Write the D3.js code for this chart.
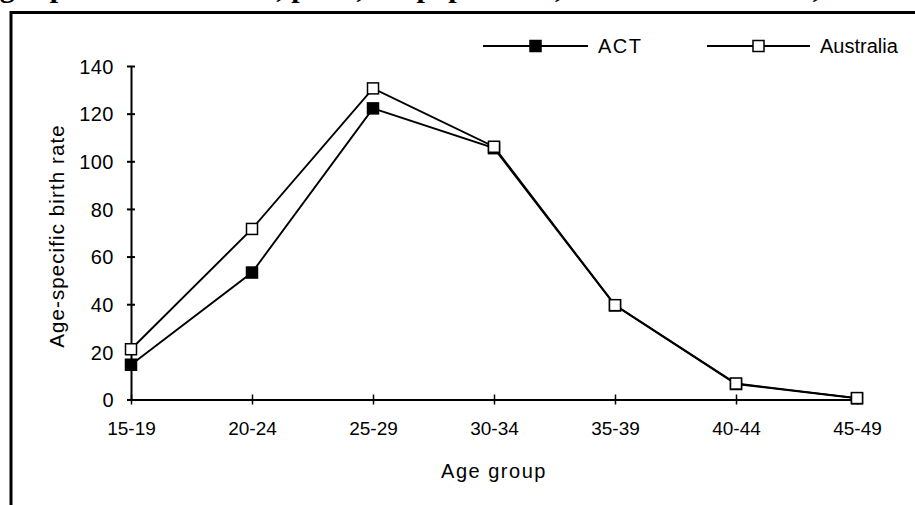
<!DOCTYPE html>
<html>
<head>
<meta charset="utf-8">
<script src="https://cdn.jsdelivr.net/npm/d3@7"></script>
<style>
  html, body { margin: 0; padding: 0; background: #fff; }
  svg { display: block; }
  text { font-family: "Liberation Sans", Arial, sans-serif; fill: #000; }
</style>
</head>
<body>
<svg id="chart" width="915" height="505"></svg>
<script>
// Age groups on the horizontal axis
const ageGroups = ["15-19", "20-24", "25-29", "30-34", "35-39", "40-44", "45-49"];
// Births per 1,000 population by age group
const actRates = [14.6, 53.3, 122.2, 105.5, 39.5, 6.5, 0.5];
const australiaRates = [21.1, 71.6, 130.6, 106.1, 39.6, 6.7, 0.6];
// Value axis ticks
const yTicks = [0, 20, 40, 60, 80, 100, 120, 140];

const series = [
  { name: "ACT", values: actRates, fill: "#000" },
  { name: "Australia", values: australiaRates, fill: "#fff" }
];

const svg = d3.select("#chart");

// Title sits above the frame, mostly outside the visible area
svg.append("text")
  .attr("x", -22).attr("y", -3.5)
  .style("font-family", "'Liberation Serif', 'Times New Roman', serif")
  .style("font-weight", "bold")
  .style("font-size", "30px")
  .text("Age-specific birth rates, per 1,000 population, ACT and Australia, 2001");

// Frame around the chart
svg.append("path")
  .attr("d", "M11,505 V12.5 H915")
  .attr("fill", "none").attr("stroke", "#000").attr("stroke-width", 3);

const x = d3.scalePoint().domain(ageGroups).range([131, 857]);
const y = d3.scaleLinear().domain([0, 140]).range([399.5, 66]);

// Y axis
const yAxis = svg.append("g").attr("transform", "translate(131,0)")
  .call(d3.axisLeft(y).tickValues(yTicks).tickSize(0).tickPadding(17));
yAxis.select(".domain").attr("stroke-width", 2);
yAxis.selectAll(".tick text").style("font-size", "20px").style("letter-spacing", "0.5px").attr("dy", "0.36em");
yAxis.selectAll(".tick").append("line")
  .attr("x1", -4).attr("x2", 4).attr("stroke", "#000").attr("stroke-width", 2);

// X axis
const xAxis = svg.append("g").attr("transform", `translate(0,${y(0)})`)
  .call(d3.axisBottom(x).tickSize(0).tickPadding(22));
xAxis.select(".domain").attr("stroke-width", 2);
xAxis.selectAll(".tick text").style("font-size", "19px");
xAxis.selectAll(".tick").append("line")
  .attr("y1", -5).attr("y2", 5).attr("stroke", "#000").attr("stroke-width", 1.5);

// Axis titles
svg.append("text")
  .attr("x", 494).attr("y", 478)
  .attr("text-anchor", "middle")
  .style("font-size", "20px")
  .style("letter-spacing", "1.5px")
  .text("Age group");

svg.append("text")
  .attr("transform", "translate(64,236) rotate(-90)")
  .attr("text-anchor", "middle")
  .style("font-size", "20.5px")
  .style("letter-spacing", "1.1px")
  .text("Age-specific birth rate");

// Lines and markers
const line = d3.line().x((d, i) => x(ageGroups[i])).y(d => y(d));

series.forEach(s => {
  svg.append("path")
    .datum(s.values)
    .attr("d", line)
    .attr("fill", "none").attr("stroke", "#000").attr("stroke-width", 1.9);
});

const m = 11;
series.forEach(s => {
  svg.append("g").selectAll("rect")
    .data(s.values)
    .join("rect")
    .attr("x", (d, i) => x(ageGroups[i]) - m / 2)
    .attr("y", d => y(d) - m / 2)
    .attr("width", m).attr("height", m)
    .attr("fill", s.fill).attr("stroke", "#000").attr("stroke-width", 1.5);
});

// Legend
const legendItems = [
  { s: series[0], x1: 483, x2: 588, tx: 598 },
  { s: series[1], x1: 707, x2: 810, tx: 820 }
];
const ly = 46;
legendItems.forEach(item => {
  const g = svg.append("g");
  g.append("line").attr("x1", item.x1).attr("x2", item.x2)
    .attr("y1", ly).attr("y2", ly).attr("stroke", "#000").attr("stroke-width", 1.9);
  const cx = (item.x1 + item.x2) / 2;
  g.append("rect").attr("x", cx - m / 2).attr("y", ly - m / 2)
    .attr("width", m).attr("height", m)
    .attr("fill", item.s.fill).attr("stroke", "#000").attr("stroke-width", 1.5);
  g.append("text").attr("x", item.tx).attr("y", ly).attr("dy", "0.36em")
    .style("font-size", "20px")
    .style("letter-spacing", item.s.name === "ACT" ? "1.5px" : "0px")
    .text(item.s.name);
});
</script>
</body>
</html>
